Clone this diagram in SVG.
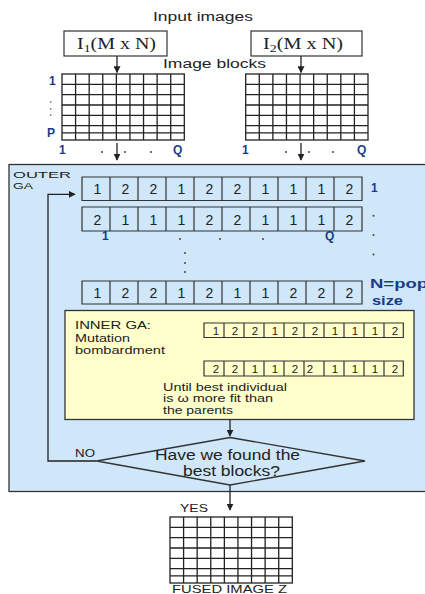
<svg xmlns="http://www.w3.org/2000/svg" xmlns:xlink="http://www.w3.org/1999/xlink" width="425" height="594" viewBox="0 0 425 594">
<style>
text{font-family:"Liberation Sans",Arial,sans-serif;fill:#222}
.t{font-size:12px}
.s{font-size:10.5px}
.o{font-size:9.5px}
.serif{font-family:"Liberation Serif","Times New Roman",serif;font-size:16px}
.blue{fill:#1a3a8a;font-weight:bold;font-size:12px}
.dig{font-size:14px;text-anchor:middle}
.dig2{font-size:11.5px;text-anchor:middle}
.cell{fill:none;stroke:#333;stroke-width:1.2}
.grid{fill:#fff;stroke:#222;stroke-width:1.3}
.ln{fill:none;stroke:#222;stroke-width:1.3}
.dot{fill:#444}
</style>
<defs>
<marker id="ah" viewBox="0 0 10 10" refX="9" refY="5" markerWidth="7" markerHeight="7" orient="auto" markerUnits="userSpaceOnUse">
<path d="M0,0 L10,5 L0,10 z" fill="#222"/>
</marker>
<g id="gridtpl">
<rect class="grid" x="0" y="0" width="122.3" height="66"/>
<path class="ln" d="M13.59,0V66M27.18,0V66M40.77,0V66M54.36,0V66M67.95,0V66M81.54,0V66M95.13,0V66M108.72,0V66M0,10.3H122.3M0,20.6H122.3M0,31H122.3M0,41.3H122.3M0,51.6H122.3M0,58.8H122.3"/>
</g>
</defs>

<text id="title" class="t" x="153" y="21" textLength="100" lengthAdjust="spacingAndGlyphs">Input images</text>

<g id="input1">
<rect x="64" y="31" width="103" height="25" fill="#fff" stroke="#333" stroke-width="1.2"/>
<text class="serif" x="77" y="48.5" textLength="79" lengthAdjust="spacingAndGlyphs">I<tspan font-size="11" dy="3">1</tspan><tspan dy="-3">(M x N)</tspan></text>
</g>
<g id="input2">
<rect x="251" y="31" width="111" height="25" fill="#fff" stroke="#333" stroke-width="1.2"/>
<text class="serif" x="263" y="48.5" textLength="80" lengthAdjust="spacingAndGlyphs">I<tspan font-size="11" dy="3">2</tspan><tspan dy="-3">(M x N)</tspan></text>
</g>

<text id="imgblocks" class="t" x="163" y="68" textLength="103" lengthAdjust="spacingAndGlyphs">Image blocks</text>

<g id="grid1">
<use xlink:href="#gridtpl" x="62" y="74"/>
<text class="blue" x="49" y="84.5">1</text>
<circle class="dot" cx="50.7" cy="102" r="0.8"/><circle class="dot" cx="50.7" cy="109" r="0.8"/><circle class="dot" cx="50.7" cy="115" r="0.8"/>
<text class="blue" x="47" y="137">P</text>
<text class="blue" x="59" y="154">1</text>
<circle class="dot" cx="102" cy="152" r="1"/><circle class="dot" cx="125" cy="152" r="1"/><circle class="dot" cx="151" cy="152" r="1"/>
<text class="blue" x="173" y="154">Q</text>
</g>
<g id="grid2">
<use xlink:href="#gridtpl" x="245.7" y="74"/>
<text class="blue" x="242" y="154">1</text>
<circle class="dot" cx="286" cy="152" r="1"/><circle class="dot" cx="309" cy="152" r="1"/><circle class="dot" cx="333" cy="152" r="1"/>
<text class="blue" x="357" y="154">Q</text>
</g>

<g id="outerGA">
<rect x="9" y="164.5" width="425" height="327" fill="#cfe7f8" stroke="#333" stroke-width="1.3"/>
<text class="o" x="13" y="177.5" textLength="58" lengthAdjust="spacingAndGlyphs">OUTER</text>
<text class="o" x="13" y="189" textLength="20" lengthAdjust="spacingAndGlyphs">GA</text>
</g>

<g id="chrom1">
<path class="cell" d="M82,177h280v23.5h-280z M110,177v23.5M138,177v23.5M166,177v23.5M194,177v23.5M222,177v23.5M250,177v23.5M278,177v23.5M306,177v23.5M334,177v23.5"/>
<text class="dig" y="194"><tspan x="97.5">1</tspan><tspan x="125.5">2</tspan><tspan x="153.5">2</tspan><tspan x="181.5">1</tspan><tspan x="209.5">2</tspan><tspan x="237.5">2</tspan><tspan x="265.5">1</tspan><tspan x="293.5">1</tspan><tspan x="321.5">1</tspan><tspan x="349.5">2</tspan></text>
<text class="blue" x="371" y="191.5">1</text>
</g>
<g id="chrom2">
<path class="cell" d="M82,207h280v24h-280z M110,207v24M138,207v24M166,207v24M194,207v24M222,207v24M250,207v24M278,207v24M306,207v24M334,207v24"/>
<text class="dig" y="224.5"><tspan x="97.5">2</tspan><tspan x="125.5">1</tspan><tspan x="153.5">1</tspan><tspan x="181.5">1</tspan><tspan x="209.5">2</tspan><tspan x="237.5">2</tspan><tspan x="265.5">1</tspan><tspan x="293.5">1</tspan><tspan x="321.5">1</tspan><tspan x="349.5">2</tspan></text>
<text class="blue" x="102" y="240">1</text>
<circle class="dot" cx="180" cy="239" r="1"/><circle class="dot" cx="220" cy="239" r="1"/><circle class="dot" cx="263" cy="239" r="1"/>
<text class="blue" x="325" y="240">Q</text>
<circle class="dot" cx="373.5" cy="215.7" r="1"/><circle class="dot" cx="373.5" cy="235" r="1"/><circle class="dot" cx="373.5" cy="254.5" r="1"/>
<circle class="dot" cx="185" cy="253" r="1"/><circle class="dot" cx="185" cy="263" r="1"/><circle class="dot" cx="185" cy="272" r="1"/>
</g>
<g id="chromN">
<path class="cell" d="M82,281h280v23h-280z M110,281v23M138,281v23M166,281v23M194,281v23M222,281v23M250,281v23M278,281v23M306,281v23M334,281v23"/>
<text class="dig" y="297.5"><tspan x="97.5">1</tspan><tspan x="125.5">2</tspan><tspan x="153.5">2</tspan><tspan x="181.5">1</tspan><tspan x="209.5">2</tspan><tspan x="237.5">1</tspan><tspan x="265.5">1</tspan><tspan x="293.5">2</tspan><tspan x="321.5">2</tspan><tspan x="349.5">2</tspan></text>
<text class="blue" x="370" y="287.5" textLength="58" lengthAdjust="spacingAndGlyphs">N=pop</text>
<text class="blue" x="372" y="305" textLength="31" lengthAdjust="spacingAndGlyphs">size</text>
</g>

<g id="innerGA">
<rect x="65" y="310.5" width="349" height="109" fill="#ffffcc" stroke="#333" stroke-width="1.3"/>
<text class="s" x="75" y="328.5" textLength="76" lengthAdjust="spacingAndGlyphs">INNER GA:</text>
<text class="s" x="75" y="342" textLength="55" lengthAdjust="spacingAndGlyphs">Mutation</text>
<text class="s" x="75" y="354" textLength="90" lengthAdjust="spacingAndGlyphs">bombardment</text>
<path class="cell" d="M204,323h199.3v14.5h-199.3z M224,323v14.5M244,323v14.5M264,323v14.5M284,323v14.5M304,323v14.5M324,323v14.5M344,323v14.5M364,323v14.5M384,323v14.5"/>
<text class="dig2" y="334.5"><tspan x="216">1</tspan><tspan x="235">2</tspan><tspan x="255">2</tspan><tspan x="275">1</tspan><tspan x="295">2</tspan><tspan x="315">2</tspan><tspan x="335">1</tspan><tspan x="355">1</tspan><tspan x="375">1</tspan><tspan x="395">2</tspan></text>
<path class="cell" d="M204,361h199.3v15h-199.3z M224,361v15M244,361v15M264,361v15M284,361v15M304,361v15M324,361v15M344,361v15M364,361v15M384,361v15"/>
<text class="dig2" y="372.5"><tspan x="216">2</tspan><tspan x="235">2</tspan><tspan x="255">1</tspan><tspan x="275">1</tspan><tspan x="295">2</tspan><tspan x="310">2</tspan><tspan x="335">1</tspan><tspan x="355">1</tspan><tspan x="375">1</tspan><tspan x="395">2</tspan></text>
<text class="s" x="163" y="390.5" textLength="124" lengthAdjust="spacingAndGlyphs">Until best individual</text>
<text class="s" x="163" y="402" textLength="110" lengthAdjust="spacingAndGlyphs">is ω more fit than</text>
<text class="s" x="163" y="413.5" textLength="70" lengthAdjust="spacingAndGlyphs">the parents</text>
</g>

<g id="decision">
<polygon points="230,437.5 365,461 230,485 96.7,461" fill="#cfe7f8" stroke="#333" stroke-width="1.3"/>
<text x="155" y="460" font-size="14" textLength="145" lengthAdjust="spacingAndGlyphs">Have we found the</text>
<text x="183" y="475.5" font-size="14" textLength="97" lengthAdjust="spacingAndGlyphs">best blocks?</text>
</g>

<g id="fused">
<use xlink:href="#gridtpl" x="170" y="517"/>
<text class="s" x="172" y="592.5" textLength="115" lengthAdjust="spacingAndGlyphs">FUSED IMAGE Z</text>
</g>

<g id="connectors" class="ln">
<line x1="117" y1="56" x2="117" y2="72.5" marker-end="url(#ah)"/>
<line x1="301" y1="56" x2="301" y2="72.5" marker-end="url(#ah)"/>
<line x1="117" y1="143" x2="117" y2="160" marker-end="url(#ah)"/>
<line x1="301" y1="143" x2="301" y2="160" marker-end="url(#ah)"/>
<line x1="230" y1="419.5" x2="230" y2="436" marker-end="url(#ah)"/>
<polyline points="96.7,461 48,461 48,194.3 75,194.3" marker-end="url(#ah)"/>
<line x1="230" y1="485" x2="230" y2="510" marker-end="url(#ah)"/>
</g>
<text id="no" class="s" x="75" y="457" textLength="20" lengthAdjust="spacingAndGlyphs">NO</text>
<text id="yes" class="s" x="180" y="512" textLength="28" lengthAdjust="spacingAndGlyphs">YES</text>
</svg>
